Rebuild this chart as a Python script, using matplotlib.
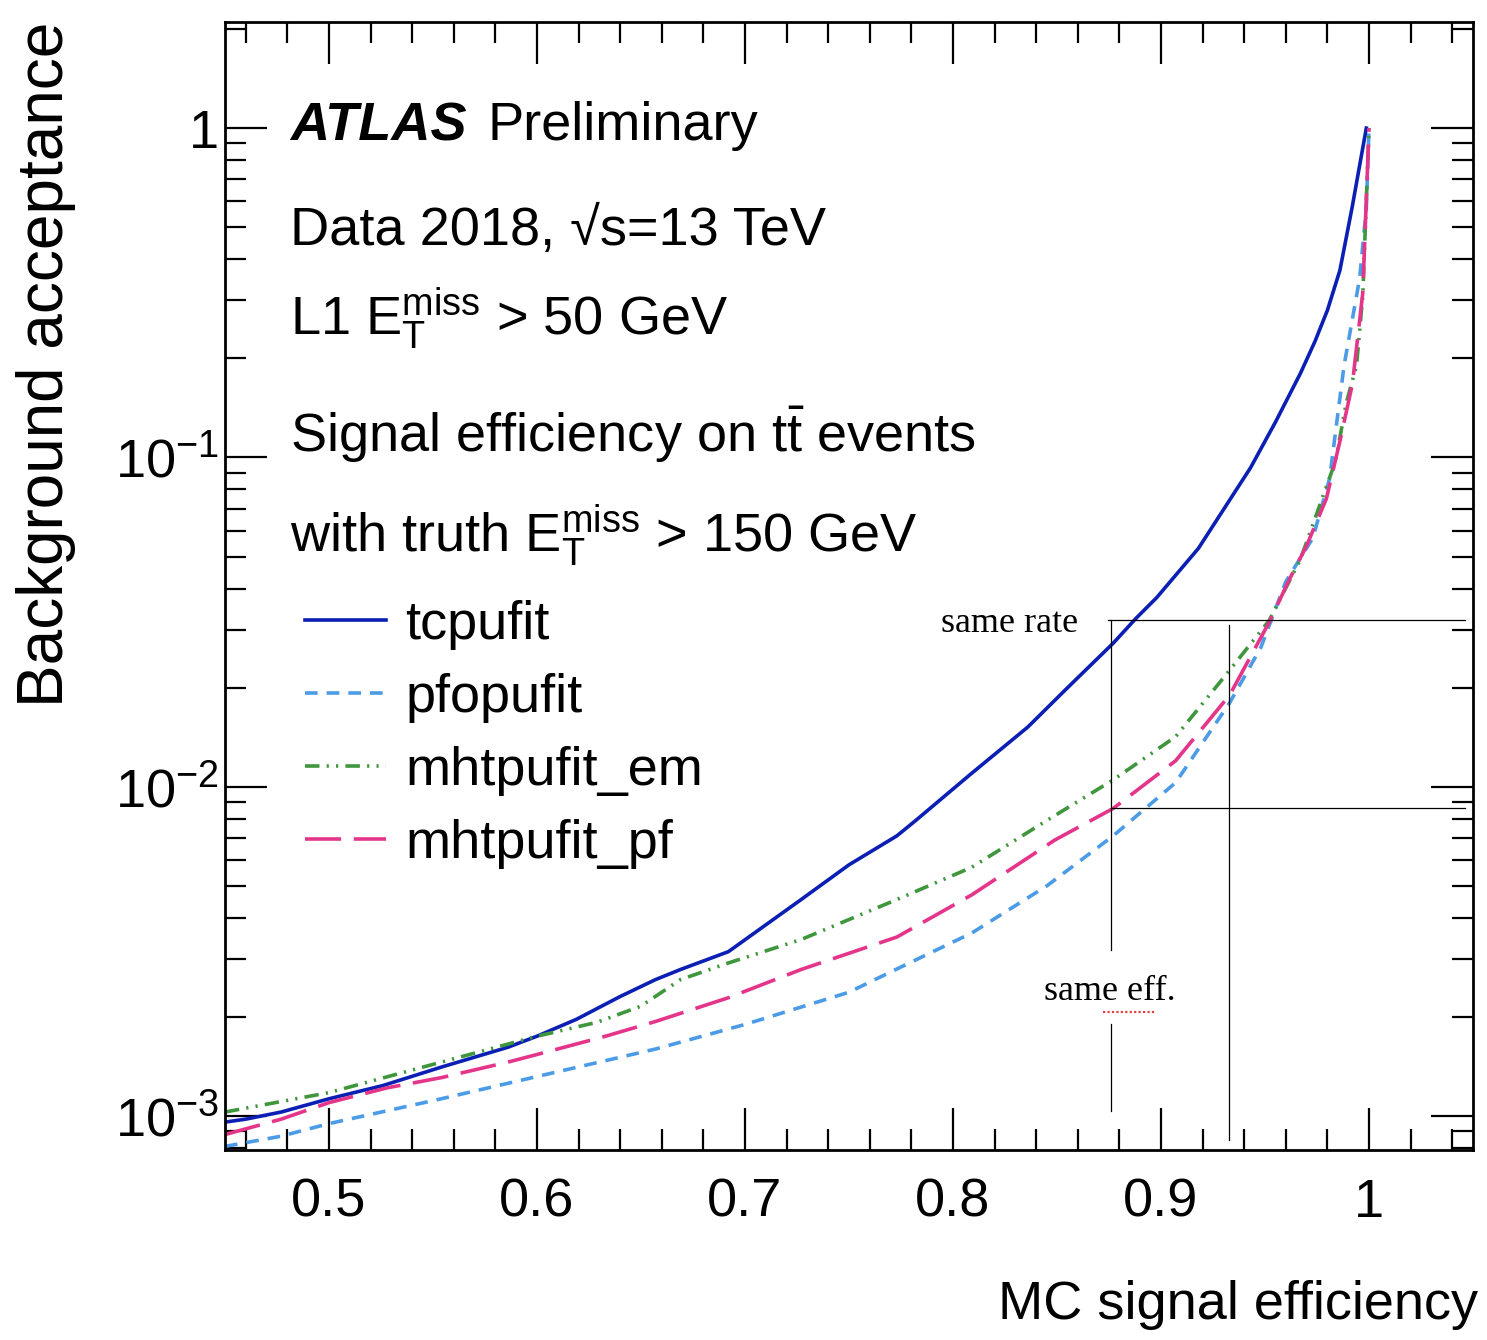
import numpy as np
import matplotlib
matplotlib.use("Agg")
import matplotlib.pyplot as plt
from matplotlib.ticker import FixedLocator, MultipleLocator, NullFormatter

plt.rcParams['font.family'] = ['Liberation Sans', 'DejaVu Sans']
plt.rcParams['mathtext.fontset'] = 'custom'
plt.rcParams['mathtext.rm'] = 'Liberation Sans'
plt.rcParams['mathtext.it'] = 'Liberation Sans:italic'
plt.rcParams['mathtext.bf'] = 'Liberation Sans:bold'

# ROC curves: signal efficiency vs background acceptance
tc_eff = [0.45, 0.46, 0.477, 0.5, 0.526, 0.554, 0.586, 0.6, 0.619, 0.64, 0.657, 0.669, 0.692,
          0.727, 0.75, 0.773, 0.782, 0.809, 0.836, 0.854, 0.877, 0.888, 0.898, 0.918, 0.931,
          0.943, 0.955, 0.967, 0.974, 0.980, 0.986, 0.992, 0.9987]
tc_bkg = [0.00096, 0.00098, 0.00103, 0.00113, 0.00124, 0.00141, 0.00162, 0.00175, 0.00197,
          0.00231, 0.0026, 0.00279, 0.00316, 0.00455, 0.0058, 0.0071, 0.0079, 0.011, 0.0152,
          0.0197, 0.0273, 0.0325, 0.0376, 0.053, 0.071, 0.093, 0.128, 0.18, 0.225, 0.28,
          0.37, 0.58, 1.0]

pfo_eff = [0.45, 0.477, 0.5, 0.554, 0.6, 0.657, 0.7, 0.75, 0.773, 0.809, 0.845, 0.877, 0.907,
           0.933, 0.948, 0.96, 0.973, 0.981, 0.988, 0.9955, 0.9987, 1.0]
pfo_bkg = [0.00081, 0.00087, 0.00095, 0.00113, 0.00132, 0.0016, 0.0019, 0.00238, 0.0028,
           0.0036, 0.005, 0.0071, 0.0103, 0.018, 0.0265, 0.042, 0.057, 0.086, 0.19, 0.35,
           0.57, 1.0]

em_eff = [0.45, 0.5, 0.554, 0.6, 0.629, 0.65, 0.669, 0.692, 0.727, 0.773, 0.809, 0.845, 0.877,
          0.907, 0.933, 0.952, 0.967, 0.984, 0.989, 0.994, 0.997, 1.0]
em_bkg = [0.00103, 0.00118, 0.00146, 0.00175, 0.00193, 0.00216, 0.0026, 0.00292, 0.00344,
          0.00455, 0.0057, 0.0079, 0.0105, 0.0142, 0.0226, 0.032, 0.049, 0.098, 0.146, 0.19,
          0.31, 1.0]

pf_eff = [0.45, 0.477, 0.5, 0.528, 0.554, 0.586, 0.6, 0.633, 0.657, 0.692, 0.727, 0.773, 0.809,
          0.849, 0.877, 0.907, 0.933, 0.952, 0.962, 0.970, 0.9795, 0.986, 0.992, 0.997, 1.0]
pf_bkg = [0.00088, 0.00098, 0.0011, 0.00122, 0.00131, 0.00146, 0.00154, 0.00175, 0.00194,
          0.00229, 0.00279, 0.0035, 0.0047, 0.0069, 0.0086, 0.012, 0.019, 0.0316, 0.043,
          0.054, 0.075, 0.112, 0.167, 0.316, 1.0]

# reference lines ("same rate" / "same eff.")
rate_level = 0.032
eff_level = 0.0086
eff_cut_a = 0.876
eff_cut_b = 0.9325

fig = plt.figure(figsize=(14.87, 13.4), dpi=100)
ax = fig.add_axes([0.1513, 0.1418, 0.8393, 0.8418])

ax.plot(tc_eff, tc_bkg, color='#0b1fb5', lw=2.6, ls='-', label='tcpufit')
ax.plot(pfo_eff, pfo_bkg, color='#4b9be6', lw=2.6, ls=(0, (3.5, 2.5)), label='pfopufit')
ax.plot(em_eff, em_bkg, color='#3f963c', lw=2.6, ls=(0, (4, 2, 0.6, 2, 0.6, 2)), label='mhtpufit_em')
ax.plot(pf_eff, pf_bkg, color='#e4358a', lw=2.6, ls=(0, (10, 3.5)), label='mhtpufit_pf')

# same rate / same eff. guides
ax.plot([0.8745, 1.046], [rate_level, rate_level], color='black', lw=0.9)
ax.plot([eff_cut_a, 1.046], [eff_level, eff_level], color='black', lw=0.9)
ax.plot([eff_cut_a, eff_cut_a], [rate_level, 0.0032], color='black', lw=0.9)
ax.plot([eff_cut_a, eff_cut_a], [0.0019, 0.00104], color='black', lw=0.9)
ax.plot([eff_cut_b, eff_cut_b], [0.031, 0.00085], color='black', lw=0.9)
ax.text(0.86, 0.0295, 'same rate', family='Liberation Serif', fontsize=26, ha='right', va='baseline')
ax.text(0.8755, 0.00226, 'same eff.', family='Liberation Serif', fontsize=26, ha='center', va='baseline')
ax.plot([0.872, 0.897], [0.00208, 0.00208], color='#e04040', lw=1.6, ls=(0, (1, 1)))

ax.set_yscale('log')
ax.set_xlim(0.45, 1.05)
ax.set_ylim(0.00079, 2.1)

ax.xaxis.set_minor_locator(MultipleLocator(0.02))
ax.set_xticks([0.5, 0.6, 0.7, 0.8, 0.9, 1.0])
ax.set_xticklabels(['0.5', '0.6', '0.7', '0.8', '0.9', '1'])
ax.yaxis.set_major_locator(FixedLocator([1e-3, 1e-2, 1e-1, 1]))
ax.set_yticklabels([r'$10^{-3}$', r'$10^{-2}$', r'$10^{-1}$', '1'])
ax.yaxis.set_minor_locator(FixedLocator([m * 10.0 ** e for e in range(-4, 1) for m in range(2, 10)]))
ax.yaxis.set_minor_formatter(NullFormatter())

ax.tick_params(which='both', direction='in', top=True, right=True, width=1.6, color='black')
ax.tick_params(which='major', length=30)
ax.tick_params(which='minor', length=15)
ax.tick_params(axis='x', which='major', labelsize=39, pad=20)
ax.tick_params(axis='y', which='major', labelsize=39, pad=4)
for s in ax.spines.values():
    s.set_linewidth(2.0)

fig.text(1478 / 1487, 1 - 1305 / 1340, 'MC signal efficiency', fontsize=39, ha='right', va='center')
fig.text(46 / 1487, 1 - 22 / 1340, 'Background acceptance', fontsize=46, ha='center', va='top',
         rotation=90)

# ATLAS label and info text
ax.text(0.052, 0.895, 'ATLAS', transform=ax.transAxes, fontsize=39, weight='bold', style='italic')
ax.text(0.210, 0.895, 'Preliminary', transform=ax.transAxes, fontsize=39)
ax.text(0.052, 0.802, 'Data 2018, √s=13 TeV', transform=ax.transAxes, fontsize=39)
ax.text(0.052, 0.7225, r'L1 $\mathrm{E_{T}^{miss}}$ > 50 GeV', transform=ax.transAxes, fontsize=39)
ax.text(0.052, 0.619, r'Signal efficiency on $\mathrm{t\bar{t}}$ events', transform=ax.transAxes, fontsize=39)
ax.text(0.052, 0.530, r'with truth $\mathrm{E_{T}^{miss}}$ > 150 GeV', transform=ax.transAxes, fontsize=39)

ax.legend(loc='upper left', bbox_to_anchor=(0.064, 0.488), frameon=False, fontsize=39,
          handlelength=1.5, handletextpad=0.36, labelspacing=0.43, borderpad=0, borderaxespad=0)

fig.savefig('out.png', dpi=100)
